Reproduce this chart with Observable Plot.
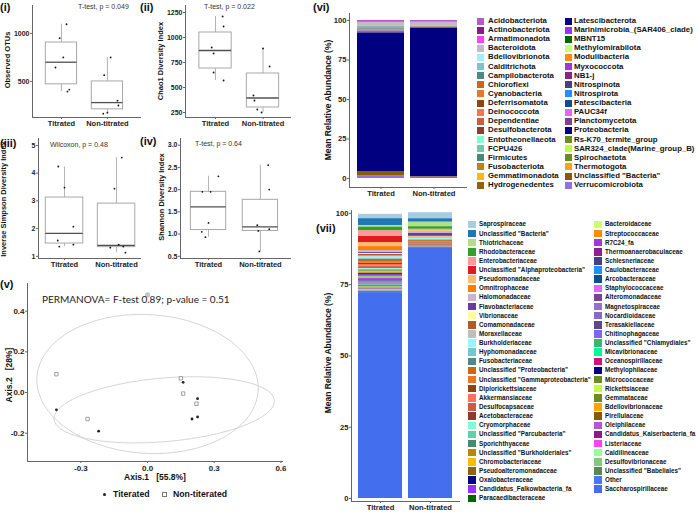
<!DOCTYPE html>
<html><head><meta charset="utf-8">
<script src="https://cdn.jsdelivr.net/npm/d3@7"></script>
<script src="https://cdn.jsdelivr.net/npm/@observablehq/plot@0.6"></script>
<style>
body{margin:0;background:#fff;}
#root{position:relative;width:696px;height:513px;overflow:hidden;background:#fff;}
</style></head><body><div id="root"></div>
<script>
const FONT = "'Liberation Sans', Arial, sans-serif";
const groups = ["Titrated", "Non-titrated"];

// (i) Observed OTUs
const otusQ1 = [470, 210];
const otusMedian = [700, 280];
const otusQ3 = [905, 500];
const otusLow = [395, 165];
const otusHigh = [1095, 750];
const otusTitrated = [1095, 950, 750, 645, 395, 415];
const otusTitratedJitter = [0.11, -0.04, 0.04, -0.13, 0.13, 0.17];
const otusNonTitrated = [750, 565, 300, 250, 175, 165];
const otusNonTitratedJitter = [0.07, -0.07, 0.22, 0.24, 0.0, -0.09];

// (ii) Chao1
const chaoQ1 = [690, 300];
const chaoMedian = [870, 395];
const chaoQ3 = [1050, 640];
const chaoLow = [570, 250];
const chaoHigh = [1210, 890];
const chaoTitrated = [1210, 1110, 900, 840, 650, 570];
const chaoTitratedJitter = [0.15, 0.17, -0.08, -0.04, -0.04, 0.17];
const chaoNonTitrated = [890, 710, 420, 370, 280, 250];
const chaoNonTitratedJitter = [0.0, 0.14, -0.2, -0.18, -0.12, -0.03];

// (iii) Inverse Simpson
const invQ1 = [1.46, 1.33];
const invMedian = [1.83, 1.39];
const invQ3 = [3.12, 2.9];
const invLow = [1.35, 1.13];
const invHigh = [4.22, 4.56];
const invTitrated = [4.24, 3.48, 2.07, 1.57, 1.35, 1.42];
const invTitratedJitter = [-0.12, 0.0, 0.17, -0.13, -0.1, 0.17];
const invNonTitrated = [4.56, 3.44, 1.42, 1.35, 1.31, 1.13];
const invNonTitratedJitter = [0.1, -0.04, 0.04, 0.13, -0.12, 0.17];

// (iv) Shannon
const shanQ1 = [1.09, 1.07];
const shanMedian = [1.61, 1.16];
const shanQ3 = [1.95, 1.77];
const shanLow = [0.93, 0.61];
const shanHigh = [2.30, 2.55];
const shanTitrated = [2.30, 1.95, 1.95, 1.25, 1.05, 0.93];
const shanTitratedJitter = [0.19, -0.12, 0.04, 0.0, -0.13, -0.06];
const shanNonTitrated = [2.55, 2.0, 1.2, 1.07, 1.11, 0.61];
const shanNonTitratedJitter = [0.15, 0.17, -0.06, -0.04, 0.17, -0.02];

// (v) PCoA
const pcoaTitratedX = [-0.41, -0.22, 0.16, 0.225, 0.225, 0.20];
const pcoaTitratedY = [-0.085, -0.19, 0.05, -0.03, -0.12, -0.13];
const pcoaNonTitratedX = [-0.41, 0.15, 0.16, -0.27, 0.22];
const pcoaNonTitratedY = [0.09, 0.07, -0.005, -0.13, -0.055];
const pcoaGrayX = [0.0];
const pcoaGrayY = [0.48];
const ellipseCenterX = [0.0, 0.075];
const ellipseCenterY = [0.042, -0.085];
const ellipseMajorX = [0.497, 0.495];
const ellipseMajorY = [0.0, 0.049];
const ellipseMinorX = [-0.03, -0.02];
const ellipseMinorY = [0.342, 0.155];

// (vi) phyla
const phyla = ["Acidobacteriota","Actinobacteriota","Armatimonadota","Bacteroidota","Bdellovibrionota","Calditrichota","Campilobacterota","Chloroflexi","Cyanobacteria","Deferrisomatota","Deinococcota","Dependentiae","Desulfobacterota","Entotheonellaeota","FCPU426","Firmicutes","Fusobacteriota","Gemmatimonadota","Hydrogenedentes",
"Latescibacterota","Marinimicrobia_(SAR406_clade)","MBNT15","Methylomirabilota","Modulibacteria","Myxococcota","NB1-j","Nitrospinota","Nitrospirota","Patescibacteria","PAUC34f","Planctomycetota","Proteobacteria","Rs-K70_termite_group","SAR324_clade(Marine_group_B)","Spirochaetota","Thermotogota","Unclassified \"Bacteria\"","Verrucomicrobiota"];
const phylumColors = ["#BA55D3","#8B1A89","#FF40FF","#BEBEBE","#98F5FF","#7AC5CD","#53868B","#CD661D","#EE7621","#8B4513","#FF7256","#CD5B45","#8B3E2F","#7FFFD4","#66CDAA","#458B74","#B8860B","#FFB90F","#8B6508",
"#00008B","#9B30FF","#006400","#CAFF70","#FF8C00","#A335D9","#8B228B","#483D8B","#1E90FF","#104E8B","#E066FF","#7F3F98","#000080","#6B8E23","#C0FF3E","#698B22","#FFA500","#8B5A00","#9370DB"];
const phylaTitrated = [0.8,0.3,0.05,2.6,0.15,0.05,0.4,0.1,0.3,0.05,0.05,0.1,0.3,0.05,0.05,0.4,0.3,0.05,0.05,
0.05,0.1,0.05,0.05,0.05,0.2,0.05,0.05,0.05,0.3,0.05,0.7,88.1,0.05,0.05,0.05,0.1,2.0,1.8];
const phylaNonTitrated = [1.0,0.1,0,2.3,0.1,0,0.2,0.05,0.1,0,0,0.05,0.1,0,0,0.2,0.1,0,0,
0,0.05,0,0,0,0.1,0,0,0,0.1,0,0.2,94.2,0,0,0,0.4,0.5,0.1];

// (vii) families
const families = ["Saprospiraceae","Unclassified \"Bacteria\"","Thiotrichaceae","Rhodobacteraceae","Enterobacteriaceae","Unclassified \"Alphaproteobacteria\"","Pseudomonadaceae","Omnitrophaceae","Halomonadaceae","Flavobacteriaceae","Vibrionaceae","Comamonadaceae","Moraxellaceae","Burkholderiaceae","Hyphomonadaceae","Fusobacteriaceae","Unclassified \"Proteobacteria\"","Unclassified \"Gammaproteobacteria\"","Diplorickettsiaceae","Akkermansiaceae","Desulfocapsaceae","Acetobacteraceae","Cryomorphaceae","Unclassified \"Parcubacteria\"","Sporichthyaceae","Unclassified \"Burkholderiales\"","Chromobacteriaceae","Pseudoalteromonadaceae","Oxalobacteraceae","Candidatus_Falkowbacteria_fa","Paracaedibacteraceae",
"Bacteroidaceae","Streptococcaceae","R7C24_fa","Thermoanaerobaculaceae","Schlesneriaceae","Caulobacteraceae","Arcobacteraceae","Staphylococcaceae","Alteromonadaceae","Magnetospiraceae","Nocardioidaceae","Terasakiellaceae","Chitinophagaceae","Unclassified \"Chlamydiales\"","Micavibrionaceae","Oceanospirillaceae","Methylophilaceae","Micrococcaceae","Rickettsiaceae","Gemmataceae","Bdellovibrionaceae","Pirellulaceae","Oleiphilaceae","Candidatus_Kaiserbacteria_fa","Listeriaceae","Caldilineaceae","Desulfovibrionaceae","Unclassified \"Babeliales\"","Other","Saccharospirillaceae"];
const familyColors = ["#A6CEE3","#1F78B4","#B2DF8A","#33A02C","#FB9A99","#E31A1C","#FDBF6F","#FF7F00","#CAB2D6","#6A3D9A","#FFFF99","#B15928","#BEBEBE","#98F5FF","#7AC5CD","#53868B","#CD661D","#EE7621","#8B4513","#FF7256","#CD5B45","#8B3E2F","#7FFFD4","#66CDAA","#458B74","#B8860B","#FFB90F","#8B6508","#00008B","#9B30FF","#006400",
"#CAFF70","#FF8C00","#A335D9","#8B228B","#483D8B","#1E90FF","#104E8B","#E066FF","#7F3F98","#9370DB","#8968CD","#5D478B","#7B68EE","#3CB371","#00FA9A","#C71585","#000080","#6B8E23","#C0FF3E","#698B22","#FFA500","#8B5A00","#BA55D3","#8B1A89","#FF40FF","#9AFF9A","#7CCD7C","#548B54","#4876FF","#436EEE"];
const familiesTitrated = [1.5,2.4,0.5,1.3,2.0,2.2,1.4,1.4,0.6,0.4,0.3,0.6,0.3,0.6,0.3,0.4,0.6,0.4,0.4,0.5,0.5,0.3,0.3,0.3,0.3,0.3,0.4,0.3,0.4,0.4,0.3,
0.3,0.3,0.3,0.3,0.3,0.15,0.15,0.25,0.15,0.15,0.15,0.15,0.15,0.15,0.15,0.15,0.15,0.15,0.15,0.15,0.15,0.15,0.15,0.15,0.15,0.15,0.15,0.15,0.5,72.2];
const familiesNonTitrated = [2.1,1.2,1.6,0.9,0.3,0.1,0.3,0.2,0.6,1.0,0.2,0.2,0.3,0.4,0.3,0.1,0.4,0.3,0.2,0.2,0.3,0.2,0.02,0.02,0.02,0.02,0.02,0.02,0.02,0.02,0.02,
0.02,0.02,0.02,0.02,0.02,0.02,0.02,0.02,0.02,0.02,0.02,0.02,0.02,0.02,0.02,0.02,0.02,0.02,0.02,0.02,0.02,0.02,0.02,0.02,0.02,0.02,0.02,0.02,0.4,87.7];

// ---------- helpers ----------
const root = document.getElementById("root");
function put(el, left, top) {
  el.style.position = "absolute"; el.style.left = left + "px"; el.style.top = top + "px";
  root.appendChild(el); return el;
}
function txt(text, x, y, o = {}) {
  const {size = 8, weight = "bold", anchor = "start", rotate = false, family = FONT, color = "#111"} = o;
  const d = document.createElement("div");
  d.textContent = text;
  d.style.cssText = `position:absolute;white-space:pre;font-family:${family};font-size:${size}px;font-weight:${weight};color:${color};line-height:1;left:${x}px;top:${y}px;`;
  d.style.transform = rotate ? "translate(-50%,-50%) rotate(-90deg)" : anchor === "middle" ? "translate(-50%,-50%)" : "translate(0,-50%)";
  root.appendChild(d);
  return d;
}
const plotStyle = {fontFamily: FONT, color: "#222", background: "transparent", overflow: "visible"};
const axisLine = "#666";

function boxPlot(o) {
  const boxes = groups.map((g, i) => ({x: i + 1, q1: o.q1[i], med: o.med[i], q3: o.q3[i], lo: o.lo[i], hi: o.hi[i]}));
  const pts = [];
  o.vals.forEach((arr, gi) => arr.forEach((v, k) => pts.push({x: gi + 1 + o.jit[gi][k], y: v})));
  const bw = o.bw;
  return Plot.plot({
    width: o.width, height: o.height,
    marginLeft: o.ml, marginRight: o.mr, marginTop: o.mt, marginBottom: o.mb,
    x: {type: "linear", domain: o.xDomain},
    y: {domain: o.yDomain},
    style: plotStyle,
    marks: [
      Plot.ruleX(boxes, {x: "x", y1: "q3", y2: "hi", stroke: "#a0a0a0", strokeWidth: 0.8}),
      Plot.ruleX(boxes, {x: "x", y1: "lo", y2: "q1", stroke: "#a0a0a0", strokeWidth: 0.8}),
      Plot.rect(boxes, {x1: d => d.x - bw, x2: d => d.x + bw, y1: "q1", y2: "q3", fill: "white", stroke: "#a8a8a8", strokeWidth: 1}),
      Plot.ruleY(boxes, {y: "med", x1: d => d.x - bw, x2: d => d.x + bw, stroke: "#505050", strokeWidth: 1.3}),
      Plot.dot(pts, {x: "x", y: "y", r: 0.9, fill: "#111", stroke: null}),
      Plot.frame({anchor: "left", stroke: axisLine}),
      Plot.frame({anchor: "bottom", stroke: axisLine}),
      Plot.axisY({ticks: o.yTicks, tickFormat: o.fmt, tickSize: 2, tickPadding: 1, fontSize: 7, fontWeight: "bold", label: null, stroke: axisLine}),
      Plot.axisX({ticks: [1, 2], tickFormat: d => groups[d - 1], tickSize: 2, tickPadding: 1, fontSize: 7.5, fontWeight: "bold", label: null, stroke: axisLine})
    ]
  });
}

// ---------- (i) ----------
put(boxPlot({width: 145, height: 130, ml: 32, mr: 5, mt: 5, mb: 13, xDomain: [0.37, 2.72], yDomain: [125, 1290], bw: 0.34,
  yTicks: [500, 1000], fmt: d => String(d),
  q1: otusQ1, med: otusMedian, q3: otusQ3, lo: otusLow, hi: otusHigh,
  vals: [otusTitrated, otusNonTitrated], jit: [otusTitratedJitter, otusNonTitratedJitter]}), 0, 0);
// ---------- (ii) ----------
put(boxPlot({width: 155, height: 130, ml: 45, mr: 5, mt: 5, mb: 13, xDomain: [0.368, 2.579], yDomain: [200, 1320], bw: 0.34,
  yTicks: [250, 500, 750, 1000, 1250], fmt: d => String(d),
  q1: chaoQ1, med: chaoMedian, q3: chaoQ3, lo: chaoLow, hi: chaoHigh,
  vals: [chaoTitrated, chaoNonTitrated], jit: [chaoTitratedJitter, chaoNonTitratedJitter]}), 140, 0);
// ---------- (iii) ----------
put(boxPlot({width: 145, height: 146, ml: 38, mr: 5, mt: 13, mb: 13, xDomain: [0.5, 2.46], yDomain: [0.92, 5.25], bw: 0.36,
  yTicks: [1, 2, 3, 4, 5], fmt: d => String(d),
  q1: invQ1, med: invMedian, q3: invQ3, lo: invLow, hi: invHigh,
  vals: [invTitrated, invNonTitrated], jit: [invTitratedJitter, invNonTitratedJitter]}), 0, 125);
// ---------- (iv) ----------
put(boxPlot({width: 155, height: 146, ml: 40, mr: 5, mt: 13, mb: 13, xDomain: [0.46, 2.58], yDomain: [0.45, 3.15], bw: 0.34,
  yTicks: [0.5, 1, 1.5, 2, 2.5, 3], fmt: d => d.toFixed(1),
  q1: shanQ1, med: shanMedian, q3: shanQ3, lo: shanLow, hi: shanHigh,
  vals: [shanTitrated, shanNonTitrated], jit: [shanTitratedJitter, shanNonTitratedJitter]}), 140, 125);

// ---------- (v) PCoA ----------
const titratedPts = pcoaTitratedX.map((x, i) => ({x, y: pcoaTitratedY[i]}));
const nonTitratedPts = pcoaNonTitratedX.map((x, i) => ({x, y: pcoaNonTitratedY[i]}));
const grayPts = pcoaGrayX.map((x, i) => ({x, y: pcoaGrayY[i]}));
const ellipsePts = [];
ellipseCenterX.forEach((cx, e) => {
  for (let k = 0; k < 120; k++) {
    const t = (k / 120) * 2 * Math.PI;
    ellipsePts.push({e, x: cx + Math.cos(t) * ellipseMajorX[e] + Math.sin(t) * ellipseMinorX[e],
                        y: ellipseCenterY[e] + Math.cos(t) * ellipseMajorY[e] + Math.sin(t) * ellipseMinorY[e]});
  }
});
put(Plot.plot({
  width: 300, height: 215, marginLeft: 27, marginRight: 18, marginTop: 13, marginBottom: 24,
  x: {domain: [-0.54, 0.607]}, y: {domain: [-0.339, 0.536]},
  style: plotStyle,
  marks: [
    Plot.line(ellipsePts, {x: "x", y: "y", z: "e", curve: "linear-closed", stroke: "#cfcfcf", strokeWidth: 0.9}),
    Plot.dot(grayPts, {x: "x", y: "y", r: 2.2, fill: "#c8c8c8", stroke: "#aaa", strokeWidth: 0.6}),
    Plot.dot(nonTitratedPts, {x: "x", y: "y", symbol: "square", r: 1.9, fill: "white", stroke: "#777", strokeWidth: 0.7}),
    Plot.dot(titratedPts, {x: "x", y: "y", r: 1.4, fill: "#222", stroke: null}),
    Plot.frame({anchor: "left", stroke: axisLine}),
    Plot.frame({anchor: "bottom", stroke: axisLine}),
    Plot.axisY({ticks: [-0.2, 0, 0.2, 0.4], tickFormat: d => d.toFixed(1), tickSize: 2, tickPadding: 1, fontSize: 8, fontWeight: "bold", label: null, stroke: axisLine}),
    Plot.axisX({ticks: [-0.3, 0, 0.3, 0.6], tickFormat: d => d.toFixed(1), tickSize: 2, tickPadding: 2, fontSize: 8, fontWeight: "bold", label: null, stroke: axisLine})
  ]
}), 0, 270);

// ---------- stacked bars ----------
function stackRows(names, a, b) {
  const rows = [];
  for (let i = names.length - 1; i >= 0; i--) {
    rows.push({group: groups[0], taxon: names[i], value: a[i]});
    rows.push({group: groups[1], taxon: names[i], value: b[i]});
  }
  return rows;
}
function barPlot(o) {
  return Plot.plot({
    width: o.width, height: o.height, marginLeft: o.ml, marginRight: o.mr, marginTop: o.mt, marginBottom: o.mb,
    x: {domain: groups, paddingInner: o.pi, paddingOuter: o.po},
    y: {domain: o.yDomain},
    color: {domain: o.names, range: o.colors},
    style: plotStyle,
    marks: [
      Plot.barY(o.rows, {x: "group", y: "value", fill: "taxon", order: null}),
      Plot.frame({anchor: "left", stroke: axisLine}),
      Plot.frame({anchor: "bottom", stroke: axisLine}),
      Plot.axisY({ticks: [0, 25, 50, 75, 100], tickSize: 2, tickPadding: 1, fontSize: 7.6, fontWeight: "bold", label: null, stroke: axisLine}),
      Plot.axisX({tickSize: 2, tickPadding: 1, fontSize: 7.6, fontWeight: "bold", label: null, stroke: axisLine})
    ]
  });
}
put(barPlot({width: 170, height: 200, ml: 49, mr: 4, mt: 13, mb: 13, pi: 0.113, po: 0.16, yDomain: [-5.7, 104.4],
  names: phyla, colors: phylumColors, rows: stackRows(phyla, phylaTitrated, phylaNonTitrated)}), 300, 0);
put(barPlot({width: 165, height: 313, ml: 51, mr: 6, mt: 10, mb: 12, pi: 0.12, po: 0.14, yDomain: [-1.05, 101],
  names: families, colors: familyColors, rows: stackRows(families, familiesTitrated, familiesNonTitrated)}), 300, 200);

// ---------- legends ----------
function legend(names, colors, o) {
  names.forEach((n, i) => {
    const col = i < o.perCol ? 0 : 1;
    const row = col ? i - o.perCol : i;
    const cy = o.y0 + o.dy * row;
    const sw = document.createElement("div");
    sw.style.cssText = `position:absolute;left:${col ? o.sx2 : o.sx1}px;top:${cy - o.sh / 2}px;width:${o.sw}px;height:${o.sh}px;background:${colors[i]};`;
    root.appendChild(sw);
    txt(n, col ? o.tx2 : o.tx1, cy, {size: o.size, color: "#111"});
  });
}
legend(phyla, phylumColors, {perCol: 19, y0: 21, dy: 9.12, sx1: 477, tx1: 488, sx2: 565, tx2: 574, sw: 7, sh: 7, size: 7.8});
legend(families, familyColors, {perCol: 31, y0: 224.4, dy: 9.13, sx1: 468, tx1: 479, sx2: 594, tx2: 605, sw: 8, sh: 7.5, size: 6.3});

// ---------- panel labels, titles, annotations ----------
txt("(i)", 0, 7, {size: 11});
txt("(ii)", 140, 7, {size: 11});
txt("(iii)", 0, 143, {size: 11});
txt("(iv)", 140, 141, {size: 11});
txt("(v)", 0, 284, {size: 11});
txt("(vi)", 313, 7, {size: 11});
txt("(vii)", 316, 228, {size: 11});

txt("T-test, p = 0.049", 78, 6, {size: 7, weight: "normal", color: "#333"});
txt("T-test, p = 0.022", 204, 6, {size: 7, weight: "normal", color: "#333"});
txt("Wilcoxon, p = 0.48", 50, 144, {size: 7, weight: "normal", color: "#333"});
txt("T-test, p = 0.64", 195, 143, {size: 7, weight: "normal", color: "#333"});

txt("Observed OTUs", 8, 60, {size: 7.5, rotate: true});
txt("Chao1 Diversity Index", 161, 61, {size: 7.5, rotate: true});
txt("Inverse Simpson Diversity Index", 4, 199, {size: 7.5, rotate: true});
txt("Shannon Diversity Index", 162, 197, {size: 7.5, rotate: true});
txt("Axis.2   [28%]", 9, 375, {size: 8.5, rotate: true});
txt("Axis.1   [55.8%]", 155, 477, {size: 8.5, anchor: "middle"});
txt("Mean Relative Abundance (%)", 328, 100, {size: 8.5, rotate: true});
txt("Mean Relative Abundance (%)", 328, 353, {size: 8.5, rotate: true});

txt("PERMANOVA= F-test 0.89; p-value = 0.51", 42, 299, {size: 10, weight: "normal", family: "Lato, 'Open Sans', sans-serif", color: "#222"});

// (v) legend
const dot = document.createElement("div");
dot.style.cssText = "position:absolute;left:102.5px;top:492.5px;width:3px;height:3px;border-radius:50%;background:#222;";
root.appendChild(dot);
txt("Titerated", 113, 494, {size: 8.7});
const sq = document.createElement("div");
sq.style.cssText = "position:absolute;left:162px;top:492px;width:3px;height:3px;border:0.7px solid #777;background:#fff;";
root.appendChild(sq);
txt("Non-titerated", 173, 494, {size: 8.7});
</script></body></html>
